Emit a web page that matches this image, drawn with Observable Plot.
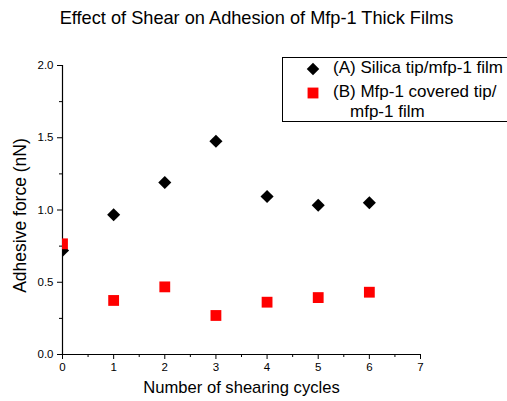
<!DOCTYPE html>
<html>
<head>
<meta charset="utf-8">
<script src="https://cdn.jsdelivr.net/npm/d3@7"></script>
<script src="https://cdn.jsdelivr.net/npm/@observablehq/plot@0.6"></script>
<style>
  html, body { margin: 0; padding: 0; background: #fff; }
  #wrap { position: relative; width: 507px; height: 401px; font-family: "Liberation Sans", Arial, sans-serif; overflow: hidden; }
  #title { position: absolute; left: 0; top: 7px; width: 513px; text-align: center; font-size: 18.2px; line-height: 22px; color: #000; white-space: nowrap; }
  #legend { position: absolute; left: 282px; top: 57px; width: 230px; height: 65px; border: 1px solid #000; box-sizing: border-box; font-size: 17px; color: #000; background: #fff; }
  .li { position: absolute; left: 50px; white-space: nowrap; line-height: 20px; }
  .sym { position: absolute; }
</style>
</head>
<body>
<div id="wrap">
  <div id="title">Effect of Shear on Adhesion of Mfp-1 Thick Films</div>
  <div id="chart"></div>
  <div id="legend"></div>
</div>
<script>
const cycles = [0, 1, 2, 3, 4, 5, 6];
const silicaTip = [0.72, 0.967, 1.19, 1.476, 1.093, 1.033, 1.05];
const coveredTip = [0.766, 0.374, 0.468, 0.27, 0.362, 0.394, 0.431];
const seriesNames = ["(A) Silica tip/mfp-1 film", "(B) Mfp-1 covered tip/\nmfp-1 film"];
const xTicks = [0, 1, 2, 3, 4, 5, 6, 7];
const xMinor = [0.5, 1.5, 2.5, 3.5, 4.5, 5.5, 6.5];
const yTicks = [0, 0.5, 1.0, 1.5, 2.0];
const yMinor = [0.25, 0.75, 1.25, 1.75];
const xLabel = "Number of shearing cycles";
const yLabel = "Adhesive force (nN)";

const dataA = cycles.map((c, i) => ({c, v: silicaTip[i]}));
const dataB = cycles.map((c, i) => ({c, v: coveredTip[i]}));

const chart = Plot.plot({
  width: 507,
  height: 401,
  marginLeft: 62,
  marginRight: 87,
  marginTop: 65,
  marginBottom: 47,
  style: {fontFamily: "'Liberation Sans', Arial, sans-serif", background: "#fff", color: "#000"},
  x: {domain: [0, 7], axis: null},
  y: {domain: [0, 2], axis: null},
  marks: [
    Plot.axisX({ticks: xTicks, tickSize: 5, tickPadding: 3, tickFormat: d => String(d), fontSize: 11.5, label: null, strokeOpacity: 1}),
    Plot.axisX({ticks: xMinor, tickSize: 3, tickFormat: () => "", label: null, strokeOpacity: 1}),
    Plot.axisY({ticks: yTicks, tickSize: 5, tickPadding: 4, tickFormat: d3.format(".1f"), fontSize: 11.5, label: null, strokeOpacity: 1}),
    Plot.axisY({ticks: yMinor, tickSize: 3, tickFormat: () => "", label: null, strokeOpacity: 1}),
    Plot.ruleX([0], {stroke: "#000", strokeWidth: 1.2}),
    Plot.ruleY([0], {stroke: "#000", strokeWidth: 1.2}),
    Plot.dot(dataA, {x: "c", y: "v", symbol: "diamond2", r: 5.9, fill: "#000", stroke: "none", clip: true}),
    Plot.dot(dataB, {x: "c", y: "v", symbol: "square", r: 6.1, fill: "#ff0000", stroke: "none", clip: true}),
    Plot.text([xLabel], {frameAnchor: "bottom", textAnchor: "middle", dy: 38, fontSize: 16.6, fill: "#000"}),
    Plot.text([yLabel], {frameAnchor: "left", textAnchor: "middle", rotate: -90, dx: -42, dy: 5.5, fontSize: 17.5, fill: "#000"})
  ]
});
document.getElementById("chart").appendChild(chart);

// legend
const legend = document.getElementById("legend");
const symA = d3.symbol(d3.symbolDiamond2, 100)();
const symB = d3.symbol(d3.symbolSquare, 118)();
legend.innerHTML = `
  <svg class="sym" style="left:21px;top:2px" width="18" height="18"><path d="${symA}" transform="translate(9,9)" fill="#000"/></svg>
  <svg class="sym" style="left:21px;top:26px" width="18" height="18"><path d="${symB}" transform="translate(9,9)" fill="#ff0000"/></svg>
  <div class="li" style="top:0px">${seriesNames[0]}</div>
  <div class="li" style="top:24px">${seriesNames[1].split("\n")[0]}</div>
  <div class="li" style="top:44px;left:67px">${seriesNames[1].split("\n")[1]}</div>
`;
</script>
</body>
</html>
